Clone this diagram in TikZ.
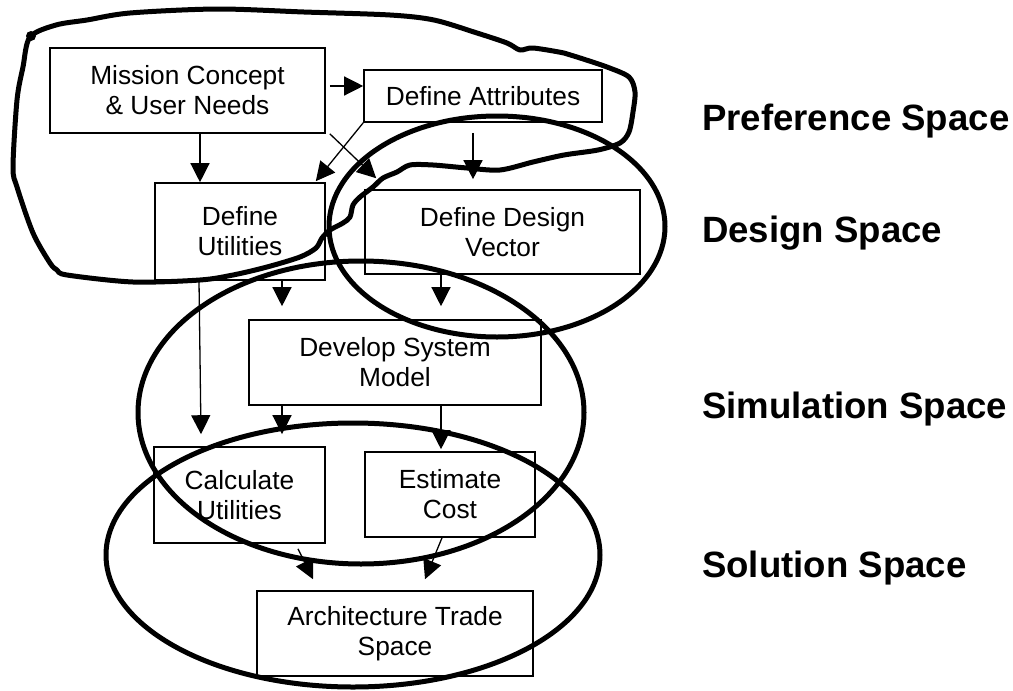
\documentclass[tikz,border=0pt]{standalone}
\usepackage{fontspec}
\setmainfont{Liberation Sans}
\usetikzlibrary{arrows.meta,calc}
\begin{document}
\begin{tikzpicture}[x=1pt,y=-1pt,
  box/.style={draw,line width=1.6pt,rectangle,inner sep=0pt,align=center,
    font=\fontsize{26.3}{30}\selectfont},
  arr/.style={line width=1.3pt,-{Triangle[length=19pt,width=19pt]}},
  ring/.style={line width=5pt},
  space/.style={anchor=base west,font=\fontsize{36.6}{40}\selectfont\bfseries,inner sep=0pt}]
\useasboundingbox (0,0) rectangle (1013,691);
% boxes
\node[box,minimum width=275pt,minimum height=85pt] (mission) at (187.5,90.5) {Mission Concept\\\& User Needs};
\node[box,minimum width=238pt,minimum height=52pt] (attr) at (483,96) {Define Attributes};
\node[box,minimum width=170pt,minimum height=97pt] (util) at (240,231.5) {Define\\Utilities};
\node[box,minimum width=275pt,minimum height=84pt] (dvec) at (502.5,232) {Define Design\\Vector};
\node[box,minimum width=292pt,minimum height=85pt] (model) at (395,362.5) {Develop System\\Model};
\node[box,minimum width=171pt,minimum height=96pt] (calc) at (239.5,495) {Calculate\\Utilities};
\node[box,minimum width=170pt,minimum height=85pt] (cost) at (450,494.5) {Estimate\\Cost};
\node[box,minimum width=276pt,minimum height=85pt] (arch) at (395,633.5) {Architecture Trade\\Space};
% labels
\node[space] (lpref) at (702,130) {Preference Space};
\node[space] (ldes) at (702,242) {Design Space};
\node[space] (lsim) at (702,418) {Simulation Space};
\node[space] (lsol) at (702,577) {Solution Space};
% arrows
\draw[arr] ([xshift=4pt,yshift=4.5pt]mission.east) -- ([yshift=10pt]attr.west);
\draw[arr] ([xshift=12.5pt]mission.south) -- ([xshift=-40pt]util.north);
\draw[arr] (attr.south west) -- ([xshift=-10pt,yshift=1pt]util.north east);
\draw[arr] ([xshift=4pt]mission.south east) -- ([xshift=12pt,yshift=11pt]dvec.north west);
\draw[arr] ([xshift=-10pt,yshift=-10pt]attr.south) -- ([xshift=-29.5pt,yshift=10pt]dvec.north);
\draw[arr] ([xshift=42pt]util.south) -- ([xshift=-113pt,yshift=13pt]model.north);
\draw[arr] ([xshift=-61.5pt]dvec.south) -- ([xshift=46pt,yshift=13pt]model.north);
\draw[arr] ([xshift=-41pt]util.south) -- ([xshift=-38.5pt,yshift=12pt]calc.north);
\draw[arr] ([xshift=-113pt]model.south) -- ([xshift=42.5pt,yshift=12pt]calc.north);
\draw[arr] ([xshift=46pt]model.south) -- ([xshift=-9pt,yshift=2pt]cost.north);
\draw[arr] ([xshift=58.5pt,yshift=-5pt]calc.south) -- ([xshift=-82pt,yshift=11pt]arch.north);
\draw[arr] ([xshift=-8pt]cost.south) -- ([xshift=30pt,yshift=11pt]arch.north);
% space outlines
\draw[ring] (497,226.5) ellipse [x radius=168, y radius=110.5];
\draw[ring] (361,412.5) ellipse [x radius=223, y radius=151.5];
\draw[ring] (353,555) ellipse [x radius=247, y radius=132];
\draw[ring,line join=round] plot[smooth cycle,tension=0.5] coordinates {
 (30,37) (56,25) (87,20) (130,13) (217,9) (304,12) (390,15) (434,20) (477,33)
 (507,43) (520,50) (533,48) (564,53) (577,57) (607,67) (629,77) (635,92) (633,112)
 (629,132) (620,143) (598,150) (564,155) (533,162) (500,170) (467,168) (433,165)
 (410,165) (397,172) (383,178) (373,187) (360,197) (353,205) (350,217) (343,223)
 (330,230) (322,238) (316,248) (300,257) (267,267) (233,275) (200,280) (133,282)
 (67,275) (57,270) (50,263) (33,233) (17,187) (13,167) (17,100) (23,67)};
\fill (31,36) circle [radius=5];
\end{tikzpicture}
\end{document}
